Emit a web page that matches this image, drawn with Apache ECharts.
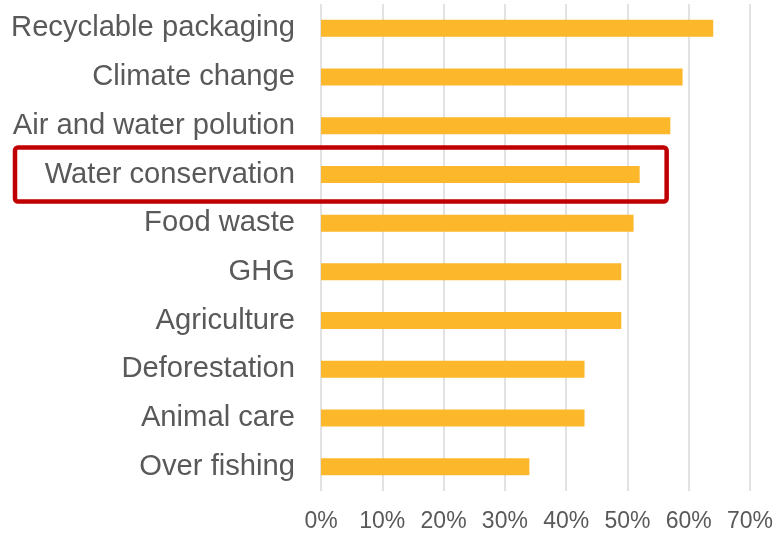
<!DOCTYPE html>
<html>
<head>
<meta charset="utf-8">
<script src="https://cdn.jsdelivr.net/npm/echarts@6/dist/echarts.min.js"></script>
<style>
  html, body { margin: 0; padding: 0; background: #ffffff; }
  #chart { width: 777px; height: 533px; }
</style>
</head>
<body>
<div id="chart"></div>
<script>
// Environmental topics and share of respondents (%)
const categories = [
  'Recyclable packaging',
  'Climate change',
  'Air and water polution',
  'Water conservation',
  'Food waste',
  'GHG',
  'Agriculture',
  'Deforestation',
  'Animal care',
  'Over fishing'
];
const values = [64, 59, 57, 52, 51, 49, 49, 43, 43, 34];
const highlighted = 'Water conservation';

const FONT = "'Liberation Sans', Arial, Helvetica, sans-serif";
const chart = echarts.init(document.getElementById('chart'), null, { renderer: 'canvas' });

chart.setOption({
  animation: false,
  backgroundColor: '#ffffff',
  grid: { left: 321, right: 27, top: 4, bottom: 42, containLabel: false },
  xAxis: {
    type: 'value',
    min: 0,
    max: 70,
    interval: 10,
    axisLine: { show: false },
    axisTick: { show: false },
    axisLabel: {
      formatter: '{value}%',
      color: '#595959',
      fontFamily: FONT,
      fontSize: 23,
      margin: 19
    },
    splitLine: { show: true, lineStyle: { color: '#D9D9D9', width: 1.5 } }
  },
  yAxis: {
    type: 'category',
    data: categories,
    inverse: true,
    axisLine: { show: false },
    axisTick: { show: false },
    axisLabel: {
      color: '#595959',
      fontFamily: FONT,
      fontSize: 29.2,
      margin: 26,
      padding: [5, 0, 0, 0]
    }
  },
  series: [{
    type: 'bar',
    data: values,
    barWidth: 17,
    itemStyle: { color: '#FCB72A' }
  }]
});

// Outline around the highlighted topic row
const rowCenter = chart.convertToPixel({ yAxisIndex: 0 }, highlighted);
const rightEdge = chart.convertToPixel({ xAxisIndex: 0 }, 56.4);
chart.setOption({
  graphic: [{
    type: 'rect',
    shape: { x: 15, y: rowCenter - 27, width: rightEdge - 15, height: 54, r: 3 },
    style: { fill: 'none', stroke: '#C00000', lineWidth: 4.5 },
    z: 100
  }]
});
</script>
</body>
</html>
